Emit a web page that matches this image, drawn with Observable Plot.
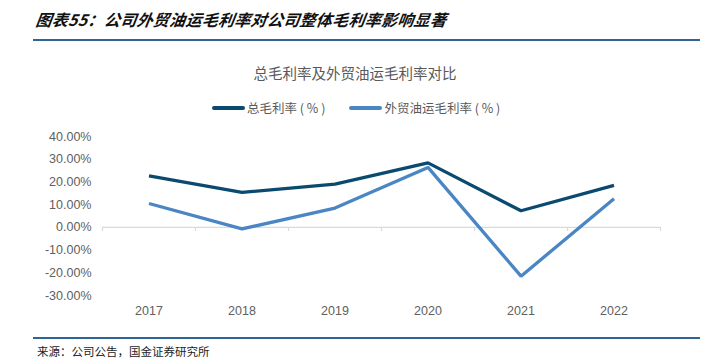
<!DOCTYPE html>
<html><head><meta charset="utf-8">
<script src="https://cdn.jsdelivr.net/npm/d3@7"></script>
<script src="https://cdn.jsdelivr.net/npm/@observablehq/plot@0.6"></script>
<style>
body{margin:0;width:710px;height:364px;position:relative;background:#fff;overflow:hidden;font-family:"Liberation Sans",Arial,sans-serif;}
.abs{position:absolute;white-space:nowrap;}
#title{left:36px;top:7px;font-family:"Noto Sans CJK SC";font-weight:bold;font-style:italic;font-size:16px;color:#111;letter-spacing:0.3px;transform:skewX(-8deg);}
.rule{left:33px;width:667px;height:2px;background:#2e6596;}
#ctitle{left:0;width:710px;text-align:center;top:62px;font-family:"Noto Sans CJK SC";font-size:14.5px;color:#595959;}
#legend{top:98px;left:212px;font-family:"Noto Sans CJK SC";font-size:12.5px;color:#595959;display:flex;align-items:center;}
.sw{display:inline-block;width:33px;height:4px;border-radius:2px;margin-right:2px;}
#src{left:37px;top:343px;font-family:"Noto Sans CJK SC";font-size:11.5px;color:#222;}
#chart{left:0;top:120px;}
</style></head>
<body>
<div id="title" class="abs">图表55：公司外贸油运毛利率对公司整体毛利率影响显著</div>
<div class="abs rule" style="top:39px"></div>
<div id="ctitle" class="abs">总毛利率及外贸油运毛利率对比</div>
<div id="legend" class="abs"></div>
<div id="chart" class="abs"></div>
<div class="abs rule" style="top:337px"></div>
<div id="src" class="abs">来源：公司公告，国金证券研究所</div>
<script>
const years = [2017, 2018, 2019, 2020, 2021, 2022];
const totalMargin = [22.7, 15.4, 19.0, 28.4, 7.3, 18.5];
const shippingMargin = [10.5, -0.7, 8.5, 26.4, -21.5, 12.6];
const seriesNames = ["总毛利率 ( % )", "外贸油运毛利率 ( % )"];
const seriesColors = ["#0b4a6f", "#4a85c4"];
const yTicks = [-30, -20, -10, 0, 10, 20, 30, 40];

const data = [];
years.forEach((y, i) => {
  data.push({year: y, value: totalMargin[i], series: seriesNames[0]});
  data.push({year: y, value: shippingMargin[i], series: seriesNames[1]});
});
const boundaries = years.map(y => y - 0.5).concat([years[years.length - 1] + 0.5]);

const legend = document.getElementById("legend");
seriesNames.forEach((n, i) => {
  const s = document.createElement("span");
  s.style.display = "flex"; s.style.alignItems = "center";
  s.style.marginRight = i === 0 ? "24px" : "0";
  s.innerHTML = `<span class="sw" style="background:${seriesColors[i]}"></span><span style="white-space:pre">${n}</span>`;
  legend.appendChild(s);
});

const chart = Plot.plot({
  width: 710,
  height: 205,
  marginLeft: 102,
  marginRight: 50,
  marginTop: 16,
  marginBottom: 30,
  style: {fontFamily: "Liberation Sans, Arial, sans-serif", fontSize: "12px", color: "#606060", background: "transparent"},
  x: {domain: [boundaries[0], boundaries[boundaries.length - 1]]},
  y: {domain: [-30, 40]},
  color: {domain: seriesNames, range: seriesColors},
  marks: [
    Plot.axisY({ticks: yTicks, tickSize: 0, tickPadding: 11, tickFormat: d => d.toFixed(2) + "%", label: null, fontSize: 12.5}),
    Plot.axisX({ticks: years, tickSize: 0, tickPadding: 11, tickFormat: d => String(d), label: null, fontSize: 12.5}),
    Plot.ruleY([0], {stroke: "#d9d9d9", strokeWidth: 1.2}),
    Plot.ruleX(boundaries, {x: d => d, y1: 0, y2: -1.8, stroke: "#d9d9d9", strokeWidth: 1.2}),
    Plot.line(data, {x: "year", y: "value", z: "series", stroke: "series", strokeWidth: 3.3, strokeLinejoin: "miter", strokeLinecap: "butt"})
  ]
});
document.getElementById("chart").appendChild(chart);
</script>
</body></html>
